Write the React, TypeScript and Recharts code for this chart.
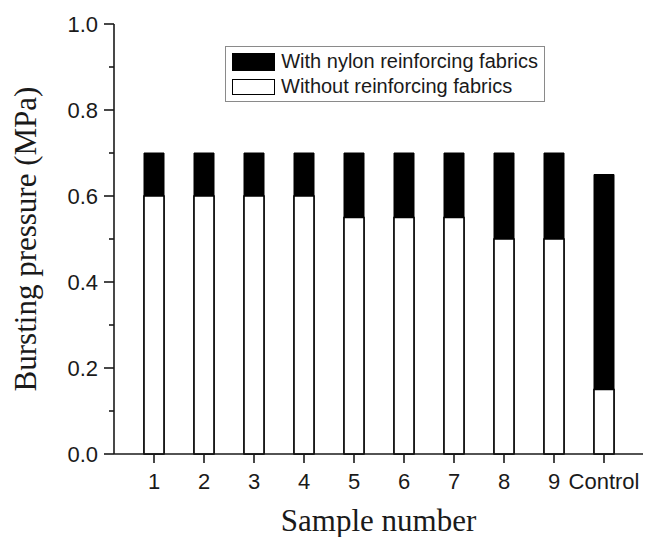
import { BarChart, Bar, XAxis, YAxis, Legend } from "recharts";

const categories = ["1", "2", "3", "4", "5", "6", "7", "8", "9", "Control"];
const withNylon = [0.7, 0.7, 0.7, 0.7, 0.7, 0.7, 0.7, 0.7, 0.7, 0.65];
const withoutFabrics = [0.6, 0.6, 0.6, 0.6, 0.55, 0.55, 0.55, 0.5, 0.5, 0.15];
const yTicks = [0, 0.1, 0.2, 0.3, 0.4, 0.5, 0.6, 0.7, 0.8, 0.9, 1.0];

const data = categories.map((name, i) => ({
  name,
  nylon: withNylon[i],
  without: withoutFabrics[i],
}));

const INK = "#1a1a1a";
const SANS = '"Liberation Sans", Arial, sans-serif';
const SERIF = '"Liberation Serif", "Times New Roman", serif';

const Y_TICK_SIZE = 10;
const Y_TICK_MARGIN = 6;

const YTick = (props: any) => {
  const { x, y, payload } = props;
  const v = payload.value as number;
  const major = Math.round(v * 10) % 2 === 0;
  const axisX = x + Y_TICK_SIZE + Y_TICK_MARGIN;
  return (
    <g>
      <line
        x1={axisX - (major ? 10 : 5)}
        x2={axisX}
        y1={y}
        y2={y}
        stroke={INK}
        strokeWidth={1.6}
      />
      {major && (
        <text
          x={x}
          y={y}
          dy="0.355em"
          textAnchor="end"
          fill={INK}
          fontSize={22}
          fontFamily={SANS}
        >
          {v.toFixed(1)}
        </text>
      )}
    </g>
  );
};

const renderLegend = () => (
  <div
    style={{
      boxSizing: "border-box",
      border: "1.5px solid #8a8a8a",
      background: "#fff",
      padding: "2px 6px 2px 6px",
      fontFamily: SANS,
      fontSize: 20,
      color: INK,
      lineHeight: "25px",
      width: 320,
      whiteSpace: "nowrap",
    }}
  >
    <div style={{ display: "flex", alignItems: "center" }}>
      <span
        style={{
          display: "inline-block",
          width: 44,
          height: 18,
          background: "#000",
          marginRight: 6,
        }}
      />
      With nylon reinforcing fabrics
    </div>
    <div style={{ display: "flex", alignItems: "center" }}>
      <span
        style={{
          display: "inline-block",
          width: 41,
          height: 14,
          background: "#fff",
          border: "1.5px solid #000",
          marginRight: 6,
        }}
      />
      Without reinforcing fabrics
    </div>
  </div>
);

export default function App() {
  return (
    <div style={{ position: "absolute", left: 0, top: 0, background: "#fff" }}>
      <BarChart
        width={652}
        height={537}
        data={data}
        margin={{ top: 24, right: 9, left: 0, bottom: 0 }}
        barSize={20}
        barGap={-20}
      >
        <XAxis
          dataKey="name"
          height={83}
          padding={{ left: 15, right: 14 }}
          axisLine={{ stroke: INK, strokeWidth: 1.6 }}
          tickLine={{ stroke: INK, strokeWidth: 1.6 }}
          tickSize={9}
          tickMargin={10}
          tick={{ fill: INK, fontSize: 22, fontFamily: SANS }}
          interval={0}
          label={{
            content: (p: any) => {
              const vb = p.viewBox;
              return (
                <text
                  x={vb.x + vb.width / 2}
                  y={vb.y + 77}
                  textAnchor="middle"
                  fill={INK}
                  fontSize={31}
                  fontFamily={SERIF}
                >
                  Sample number
                </text>
              );
            },
          }}
        />
        <XAxis
          xAxisId="top"
          dataKey="name"
          orientation="top"
          height={0}
          tick={false}
          tickLine={false}
          axisLine={{ stroke: INK, strokeWidth: 1.6 }}
        />
        <YAxis
          width={114}
          domain={[0, 1]}
          ticks={yTicks}
          interval={0}
          tickLine={false}
          tickSize={Y_TICK_SIZE}
          tickMargin={Y_TICK_MARGIN}
          axisLine={{ stroke: INK, strokeWidth: 1.6 }}
          tick={<YTick />}
          label={{
            content: () => (
              <text
                x={36}
                y={239}
                transform="rotate(-90, 36, 239)"
                textAnchor="middle"
                fill={INK}
                fontSize={31}
                fontFamily={SERIF}
              >
                Bursting pressure (MPa)
              </text>
            ),
          }}
        />
        <YAxis
          yAxisId="right"
          orientation="right"
          width={0}
          domain={[0, 1]}
          tick={false}
          tickLine={false}
          axisLine={{ stroke: INK, strokeWidth: 1.6 }}
        />
        <Legend
          content={renderLegend}
          layout="vertical"
          align="center"
          verticalAlign="middle"
          wrapperStyle={{ position: "absolute", left: 225, top: 46, width: "auto" }}
        />
        <Bar
          dataKey="nylon"
          name="With nylon reinforcing fabrics"
          fill="#000"
          stroke="#000"
          strokeWidth={1}
          isAnimationActive={false}
        />
        <Bar
          dataKey="without"
          name="Without reinforcing fabrics"
          fill="#fff"
          stroke="#000"
          strokeWidth={1.6}
          isAnimationActive={false}
        />
      </BarChart>
    </div>
  );
}
